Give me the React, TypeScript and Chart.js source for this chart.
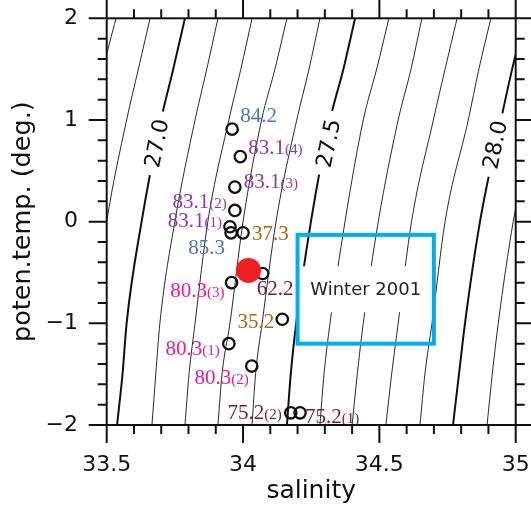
import React, { useEffect, useRef } from 'react';
import { Chart, registerables } from 'chart.js';

Chart.register(...registerables);

// ---------- data ----------
// potential temperatures at which each sigma-theta contour was read
const contourTemps = [-2, -1.5, -1, 0, 1, 1.5, 2];
// salinity of each contour at those temperatures (null = outside the frame)
const sigma268 = [null, null, null, null, 33.45, 33.487, 33.534];
const sigma269 = [null, null, 33.45, 33.5, 33.573, 33.616, 33.659];
const sigma270 = [33.538, 33.558, 33.573, 33.628, 33.699, 33.744, 33.787];
const sigma271 = [33.666, 33.68, 33.695, 33.75, 33.824, 33.867, 33.908];
const sigma272 = [33.787, 33.802, 33.824, 33.871, 33.948, 33.992, 34.033];
const sigma273 = [33.908, 33.923, 33.952, 34.0, 34.068, 34.117, 34.161];
const sigma274 = [34.033, 34.046, 34.07, 34.121, 34.197, 34.242, 34.282];
const sigma275 = [34.161, 34.175, 34.195, 34.249, 34.319, 34.368, 34.411];
const sigma276 = [34.282, 34.297, 34.319, 34.374, 34.441, 34.49, 34.535];
const sigma277 = [34.4, 34.419, 34.441, 34.496, 34.569, 34.616, 34.656];
const sigma278 = [34.524, 34.545, 34.569, 34.618, 34.698, 34.741, 34.785];
const sigma279 = [34.649, 34.667, 34.693, 34.741, 34.826, 34.865, 34.909];
const sigma280 = [34.77, 34.792, 34.814, 34.869, 34.946, 34.987, 35.034];
const sigma281 = [34.895, 34.914, 34.936, 34.991, 35.07, null, null];

const contourLevels = [26.8, 26.9, 27.0, 27.1, 27.2, 27.3, 27.4, 27.5, 27.6, 27.7, 27.8, 27.9, 28.0, 28.1];
const contourSalinity = [
  sigma268, sigma269, sigma270, sigma271, sigma272, sigma273, sigma274,
  sigma275, sigma276, sigma277, sigma278, sigma279, sigma280, sigma281,
];
const labelledLevels = ['27.0', '27.5', '28.0'];
const labelledSalinity = [33.683, 34.313, 34.924];
const labelledTemp = [0.77, 0.77, 0.755];

// stations
const stationLabels = ['84.2', '83.1(4)', '83.1(3)', '83.1(2)', '83.1(1)', '85.3', '37.3', '62.2', '80.3(3)', '35.2', '80.3(1)', '80.3(2)', '75.2(2)', '75.2(1)'];
const stationSalinity = [33.96, 33.99, 33.97, 33.97, 33.952, 33.956, 34.0, 34.072, 33.958, 34.144, 33.948, 34.032, 34.175, 34.209];
const stationTemp = [0.91, 0.64, 0.34, 0.11, -0.05, -0.11, -0.11, -0.51, -0.6, -0.96, -1.2, -1.42, -1.88, -1.88];

// red mean point
const meanSalinity = [34.02];
const meanTemp = [-0.48];

// winter box
const boxSalinity = [34.2, 34.7];
const boxTemp = [-1.2, -0.13];
const boxLabel = 'Winter 2001';

// axis ticks
const xMajorTicks = [33.5, 34, 34.5, 35];
const xMinorTicks = [33.6, 33.7, 33.8, 33.9, 34.1, 34.2, 34.3, 34.4, 34.6, 34.7, 34.8, 34.9];
const yMajorTicks = [-2, -1, 0, 1, 2];
const yMinorTicks = [-1.8, -1.6, -1.4, -1.2, -0.8, -0.6, -0.4, -0.2, 0.2, 0.4, 0.6, 0.8, 1.2, 1.4, 1.6, 1.8];

// ---------- styles ----------
const SANS = "'DejaVu Sans', sans-serif";
const SERIF = "'Liberation Serif', 'Times New Roman', serif";
const INK = '#111111';
const C_BLUE = '#4f73b8';
const C_PURPLE = '#8c3c9e';
const C_BROWN = '#a8660f';
const C_PINK = '#ec1a8a';
const C_MAROON = '#76183c';
const C_DKRED = '#7a1c1c';

const stationLabelColor = [C_BLUE, C_PURPLE, C_PURPLE, C_PURPLE, C_PURPLE, C_BLUE, C_BROWN, C_MAROON, C_PINK, C_BROWN, C_PINK, C_PINK, C_DKRED, C_DKRED];
// label anchor offsets in px from the point, and alignment
const stationLabelDx = [8, 8, 9, -8, -8, -6, 9, -6, -7, -8, -9, -3, -9, 5];
const stationLabelDy = [-14, -10, -6, -9, -7, 14, 0, 14, 7, 2, 4, 11, -1, 3];
const stationLabelAlign = ['left', 'left', 'left', 'right', 'right', 'right', 'left', 'left', 'right', 'right', 'right', 'right', 'right', 'left'];

function fmtTick(v: number) {
  return v < 0 ? '\u2212' + String(Math.abs(v)) : String(v);
}

function zeroPad(s: any) {
  s.paddingTop = 0;
  s.paddingBottom = 0;
  s.paddingLeft = 0;
  s.paddingRight = 0;
}

const overlay = {
  id: 'overlay',
  afterDraw(chart: any) {
    const { ctx, chartArea: a, scales } = chart;
    const xs = scales.x;
    const ys = scales.y;

    // contour labels with white mask
    labelledLevels.forEach((txt, i) => {
      const li = contourLevels.findIndex((l) => l.toFixed(1) === txt);
      const sal = contourSalinity[li];
      const p0x = xs.getPixelForValue(sal[3] as number);
      const p0y = ys.getPixelForValue(contourTemps[3]);
      const p1x = xs.getPixelForValue(sal[5] as number);
      const p1y = ys.getPixelForValue(contourTemps[5]);
      const ang = Math.atan2(p1y - p0y, p1x - p0x);
      const cx = xs.getPixelForValue(labelledSalinity[i]);
      const cy = ys.getPixelForValue(labelledTemp[i]);
      ctx.save();
      ctx.translate(cx, cy);
      ctx.rotate(ang);
      ctx.font = `22px ${SANS}`;
      const w = ctx.measureText(txt).width;
      ctx.fillStyle = '#ffffff';
      ctx.fillRect(-w / 2 - 8, -8, w + 16, 16);
      ctx.fillStyle = INK;
      ctx.textAlign = 'center';
      ctx.textBaseline = 'middle';
      ctx.fillText(txt, 0, 1.5);
      ctx.restore();
    });

    // winter box
    const bx0 = xs.getPixelForValue(boxSalinity[0]);
    const bx1 = xs.getPixelForValue(boxSalinity[1]);
    const by0 = ys.getPixelForValue(boxTemp[1]);
    const by1 = ys.getPixelForValue(boxTemp[0]);
    const bcx = (bx0 + bx1) / 2;
    const bcy = (by0 + by1) / 2;
    ctx.save();
    ctx.fillStyle = '#ffffff';
    ctx.fillRect(bx0, bcy - 23, bx1 - bx0, 46);
    ctx.strokeStyle = '#00aeef';
    ctx.lineWidth = 4;
    ctx.strokeRect(bx0, by0, bx1 - bx0, by1 - by0);
    ctx.fillStyle = '#222222';
    ctx.font = `18px ${SANS}`;
    ctx.textAlign = 'center';
    ctx.textBaseline = 'middle';
    ctx.fillText(boxLabel, bcx, bcy + 1);
    ctx.restore();

    // station labels
    ctx.save();
    ctx.textBaseline = 'alphabetic';
    ctx.textAlign = 'left';
    stationLabels.forEach((lab, i) => {
      const m = lab.match(/^([^()]*)(\(.*\))?$/);
      const main = m ? m[1] : lab;
      const sub = m && m[2] ? m[2] : '';
      const px = xs.getPixelForValue(stationSalinity[i]) + stationLabelDx[i];
      const py = ys.getPixelForValue(stationTemp[i]) + stationLabelDy[i] + 7;
      ctx.font = `21px ${SERIF}`;
      const wMain = ctx.measureText(main).width;
      ctx.font = `15px ${SERIF}`;
      const wSub = ctx.measureText(sub).width;
      const total = wMain + wSub;
      const sx = stationLabelAlign[i] === 'right' ? px - total : px;
      ctx.fillStyle = stationLabelColor[i];
      ctx.font = `21px ${SERIF}`;
      ctx.fillText(main, sx, py);
      if (sub) {
        ctx.font = `15px ${SERIF}`;
        ctx.fillText(sub, sx + wMain, py);
      }
    });
    ctx.restore();

    // frame and tick marks
    ctx.save();
    ctx.strokeStyle = INK;
    ctx.lineWidth = 2;
    ctx.lineCap = 'butt';
    ctx.strokeRect(a.left, a.top, a.right - a.left, a.bottom - a.top);
    const MAJ = 18;
    const MIN = 9;
    ctx.beginPath();
    xMajorTicks.forEach((v) => {
      const p = xs.getPixelForValue(v);
      ctx.moveTo(p, a.bottom); ctx.lineTo(p, a.bottom + MAJ);
      ctx.moveTo(p, a.top); ctx.lineTo(p, a.top - MAJ - 2);
    });
    xMinorTicks.forEach((v) => {
      const p = xs.getPixelForValue(v);
      ctx.moveTo(p, a.bottom); ctx.lineTo(p, a.bottom + MIN);
      ctx.moveTo(p, a.top); ctx.lineTo(p, a.top - MIN);
    });
    yMajorTicks.forEach((v) => {
      const p = ys.getPixelForValue(v);
      ctx.moveTo(a.left, p); ctx.lineTo(a.left - MAJ, p);
      ctx.moveTo(a.right, p); ctx.lineTo(a.right + MAJ, p);
    });
    yMinorTicks.forEach((v) => {
      const p = ys.getPixelForValue(v);
      ctx.moveTo(a.left, p); ctx.lineTo(a.left - MIN, p);
      ctx.moveTo(a.right, p); ctx.lineTo(a.right + MIN, p);
    });
    ctx.stroke();
    ctx.restore();
  },
};

function buildConfig(): any {
  const contourSets = contourSalinity.map((sal, i) => {
    const pts: { x: number; y: number }[] = [];
    sal.forEach((s, j) => {
      if (s !== null) pts.push({ x: s as number, y: contourTemps[j] });
    });
    const lvl = contourLevels[i];
    const thick = Math.abs(lvl * 2 - Math.round(lvl * 2)) < 1e-6;
    return {
      label: 'sigma ' + lvl.toFixed(1),
      data: pts,
      showLine: true,
      borderColor: INK,
      borderWidth: thick ? 2 : 0.9,
      pointRadius: 0,
      cubicInterpolationMode: 'monotone',
      order: 3,
    };
  });

  const stationSet = {
    label: 'stations',
    data: stationSalinity.map((s, i) => ({ x: s, y: stationTemp[i] })),
    showLine: false,
    pointRadius: 5.7,
    pointBorderWidth: 2.3,
    pointBorderColor: INK,
    pointBackgroundColor: 'rgba(0,0,0,0)',
    order: 1,
  };

  const meanSet = {
    label: 'mean',
    data: meanSalinity.map((s, i) => ({ x: s, y: meanTemp[i] })),
    showLine: false,
    pointRadius: 12.5,
    pointBorderWidth: 0,
    pointBackgroundColor: '#ee2024',
    pointBorderColor: '#ee2024',
    order: 0,
  };

  const noGrid = { display: false, drawTicks: false };

  return {
    type: 'scatter',
    data: { datasets: [meanSet, stationSet, ...contourSets] },
    options: {
      animation: false,
      responsive: false,
      maintainAspectRatio: false,
      devicePixelRatio: 1,
      events: [],
      layout: { padding: 0 },
      plugins: { legend: { display: false }, tooltip: { enabled: false } },
      scales: {
        x: {
          type: 'linear',
          position: 'bottom',
          min: 33.5,
          max: 35,
          grid: noGrid,
          border: { display: false },
          afterBuildTicks: (s: any) => { s.ticks = xMajorTicks.map((v) => ({ value: v })); },
          afterFit: (s: any) => { s.height = 92; zeroPad(s); },
          ticks: {
            autoSkip: false,
            maxRotation: 0,
            padding: 27,
            color: INK,
            font: { family: SANS, size: 22 },
            callback: (v: any) => fmtTick(Number(v)),
          },
          title: {
            display: true,
            text: 'salinity',
            color: INK,
            font: { family: SANS, size: 25 },
            padding: { top: 0, bottom: 11 },
          },
        },
        x2: {
          type: 'linear',
          position: 'top',
          min: 33.5,
          max: 35,
          grid: noGrid,
          border: { display: false },
          ticks: { display: false },
          afterFit: (s: any) => { s.height = 18.3; zeroPad(s); },
        },
        y: {
          type: 'linear',
          position: 'left',
          min: -2,
          max: 2,
          grid: noGrid,
          border: { display: false },
          afterBuildTicks: (s: any) => { s.ticks = yMajorTicks.map((v) => ({ value: v })); },
          afterFit: (s: any) => { s.width = 106.7; zeroPad(s); },
          ticks: {
            autoSkip: false,
            padding: 28.7,
            color: INK,
            font: { family: SANS, size: 22 },
            callback: (v: any) => fmtTick(Number(v)),
          },
          title: {
            display: true,
            text: 'poten.temp. (deg.)',
            color: INK,
            font: { family: SANS, size: 25.5 },
            padding: { top: 8, bottom: 0 },
          },
        },
        y2: {
          type: 'linear',
          position: 'right',
          min: -2,
          max: 2,
          grid: noGrid,
          border: { display: false },
          ticks: { display: false },
          afterFit: (s: any) => { s.width = 15.3; zeroPad(s); },
        },
      },
    },
    plugins: [overlay],
  };
}

export default function App() {
  const ref = useRef<HTMLCanvasElement>(null);
  useEffect(() => {
    if (!ref.current) return;
    const chart = new Chart(ref.current, buildConfig());
    return () => chart.destroy();
  }, []);
  return (
    <canvas
      ref={ref}
      width={531}
      height={517}
      style={{ position: 'absolute', left: 0, top: 0, display: 'block', background: '#ffffff' }}
    />
  );
}
